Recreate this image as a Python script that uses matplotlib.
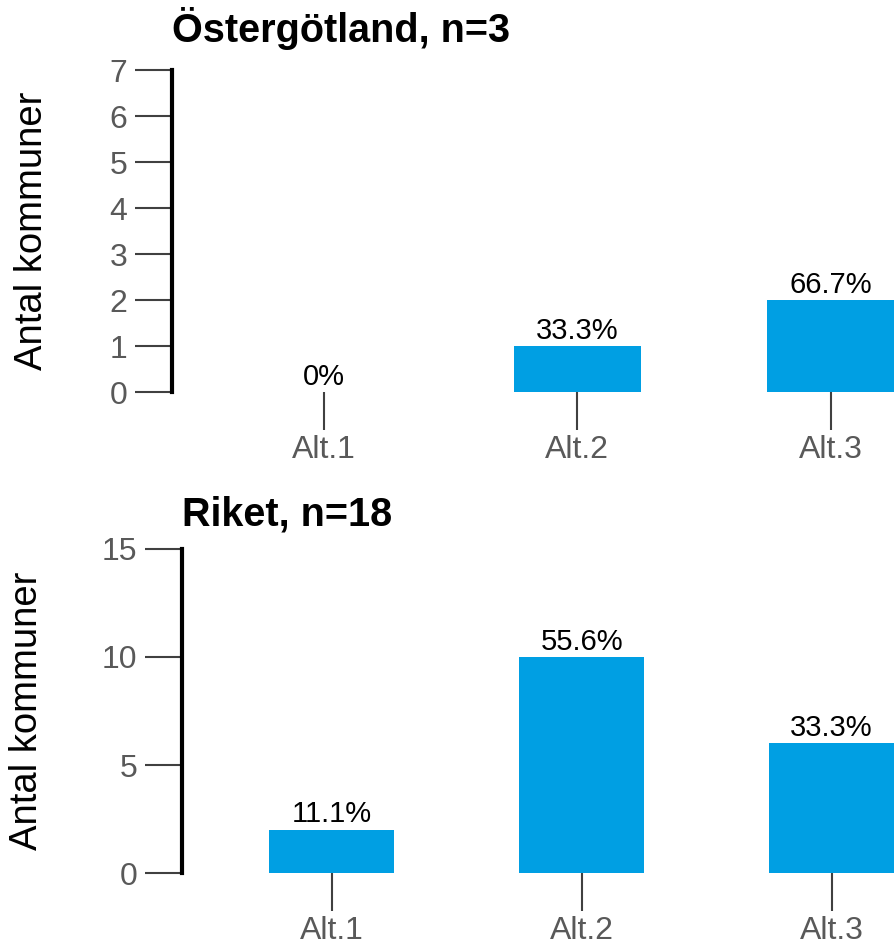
import matplotlib
matplotlib.use("Agg")
import matplotlib.pyplot as plt

plt.rcParams['font.family'] = ['Liberation Sans', 'DejaVu Sans']

categories = ["Alt.1", "Alt.2", "Alt.3"]
ost_counts = [0, 1, 2]
ost_pct = ["0%", "33.3%", "66.7%"]
riket_counts = [2, 10, 6]
riket_pct = ["11.1%", "55.6%", "33.3%"]

bar_color = "#009FE3"
tick_color = "#404040"
label_color = "#595959"

fig = plt.figure(figsize=(8.94, 9.47), dpi=100)
ax1 = fig.add_axes([0.1924, 0.586, 0.8076, 0.340])
ax2 = fig.add_axes([0.2036, 0.0781, 0.7964, 0.3422])


def draw(ax, counts, pcts, title, ymax, yticks, title_pad, ylab_x):
    x = range(len(categories))
    ax.bar(x, counts, width=0.5, color=bar_color)
    for xi, c, p in zip(x, counts, pcts):
        ax.annotate(p, (xi, c), xytext=(0, 1), textcoords="offset points",
                    ha="center", va="bottom", fontsize=21, color="black")
    ax.set_xlim(-0.6, 2.25)
    ax.set_ylim(0, ymax)
    ax.set_yticks(yticks)
    ax.set_xticks(list(x))
    ax.set_xticklabels(categories)
    for s in ["top", "right", "bottom"]:
        ax.spines[s].set_visible(False)
    ax.spines["left"].set_linewidth(3)
    ax.spines["left"].set_color("black")
    ax.tick_params(axis="y", length=27, width=1.5, color=tick_color, labelcolor=label_color,
                   labelsize=23, pad=5)
    ax.tick_params(axis="x", length=27, width=1.5, color=tick_color, labelcolor=label_color,
                   labelsize=23, pad=4)
    ax.set_ylabel("Antal kommuner", fontsize=27.5)
    ax.yaxis.set_label_coords(ylab_x, 0.5)
    ax.set_title(title, loc="left", fontsize=28.5, fontweight="bold", pad=title_pad)


draw(ax1, ost_counts, ost_pct, "Östergötland, n=3", 7, range(0, 8), 20, -0.169)
draw(ax2, riket_counts, riket_pct, "Riket, n=18", 15, [0, 5, 10, 15], 17, -0.192)

fig.savefig("out.png", dpi=100)
